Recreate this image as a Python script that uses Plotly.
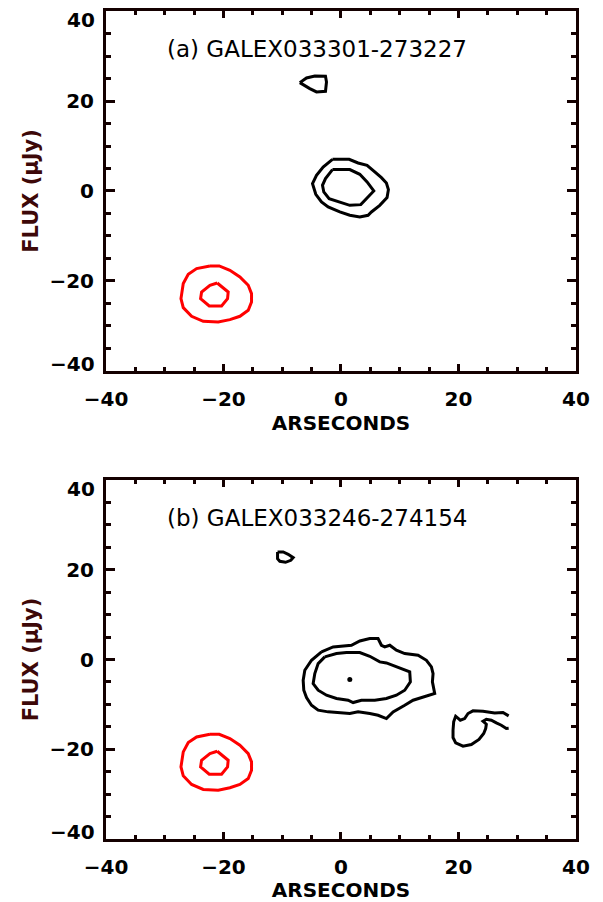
import plotly.graph_objects as go

# ---------------- contour vertices (arcseconds) ----------------
# Red comparison-source contours, identical in both panels
red_outer_x = [-22.31, -20.73, -18.91, -17.21, -15.79, -15.23, -15.23, -15.79, -17.21,
               -18.91, -20.90, -23.45, -25.43, -26.85, -27.24, -26.85, -26.00, -24.58]
red_outer_y = [-16.66, -16.66, -17.62, -19.10, -20.96, -22.81, -24.66, -26.51, -27.84,
               -28.58, -29.10, -28.96, -27.84, -25.92, -23.92, -20.58, -18.51, -17.25]
red_inner_x = [-21.07, -19.20, -19.31, -20.33, -22.43, -23.90, -23.73, -22.31]
red_inner_y = [-20.44, -22.44, -23.92, -25.55, -25.55, -23.92, -22.44, -20.96]

# Panel (a): GALEX033301-273227
a_outer_x = [-1.45, 1.38, 2.91, 4.44, 5.75, 6.88, 7.73, 8.07, 7.84, 6.60, 5.18, 4.61,
             3.20, 1.50, -0.20, -2.19, -3.32, -4.29, -4.85, -4.17, -3.04]
a_outer_y = [7.04, 7.04, 6.23, 5.71, 4.23, 2.97, 1.78, 0.30, -1.47, -3.18, -4.66, -5.40,
             -5.77, -5.40, -4.66, -3.55, -2.44, -0.73, 1.64, 3.49, 5.34]
a_inner_x = [-1.45, 1.50, 3.20, 4.44, 5.58, 4.33, 3.37, 1.50, -0.49, -2.02, -2.93, -3.15,
             -2.64, -1.62]
a_inner_y = [4.75, 4.75, 3.71, 2.01, 0.01, -1.70, -3.03, -3.18, -2.44, -1.70, -0.21, 1.27,
             2.75, 4.45]
a_blob_x = [-7.01, -5.87, -4.46, -2.64, -2.47, -2.64, -4.17, -5.31]
a_blob_y = [24.08, 25.12, 25.56, 25.49, 24.23, 22.16, 22.01, 22.75]

# Panel (b): GALEX033246-274154
b_outer_x = [-3.32, -1.34, 1.78, 3.20, 4.90, 6.31, 6.88, 7.45, 8.30, 9.43, 10.85, 13.12,
             14.54, 15.39, 15.67, 15.56, 15.95, 13.97, 12.27, 10.85, 8.87, 7.73, 6.31,
             4.90, 2.91, 1.50, -0.20, -2.19, -3.89, -5.02, -5.87, -6.33, -6.44, -6.16,
             -5.02]
b_outer_y = [1.70, 2.81, 3.18, 4.15, 4.67, 4.67, 3.18, 2.81, 3.18, 2.07, 1.33, 0.96,
             -0.16, -1.64, -3.12, -4.98, -7.58, -8.32, -9.06, -10.18, -11.66, -13.15,
             -12.41, -12.03, -11.66, -12.03, -11.88, -11.66, -11.29, -10.18, -8.47, -6.84,
             -4.61, -2.38, -0.16]
b_inner_x = [-2.76, -0.77, 0.93, 3.20, 4.90, 6.60, 7.73, 9.43, 11.70, 11.81, 10.85, 9.43,
             7.73, 5.75, 3.48, 2.06, 1.21, -0.77, -2.47, -3.89, -4.74, -4.46, -3.89]
b_inner_y = [0.59, 1.33, 1.55, 1.55, 0.73, -0.53, -0.75, -1.64, -2.75, -4.98, -6.84,
             -7.95, -8.69, -9.06, -9.06, -9.58, -9.06, -8.69, -7.95, -6.84, -5.35, -3.12,
             -0.90]
b_peak_x = [1.50]
b_peak_y = [-4.46]
b_blob_x = [-10.80, -9.84, -8.99, -8.14, -8.54, -9.44, -10.41, -10.80]
b_blob_y = [23.97, 23.97, 23.45, 22.71, 22.12, 21.67, 21.89, 22.49]
# open contour running off to the south-east of the source
b_wisp_x = [28.54, 27.57, 26.16, 24.17, 22.47, 21.62, 21.05, 20.31, 19.52, 19.18, 19.07,
            19.07, 19.52, 20.77, 22.19, 23.49, 24.29, 24.63, 24.74, 24.17, 24.74, 25.59,
            26.44, 27.29, 28.14, 28.54]
b_wisp_y = [-12.55, -11.81, -11.89, -11.51, -11.44, -12.03, -13.15, -13.52, -12.63,
            -13.89, -15.75, -17.38, -18.57, -19.31, -18.94, -17.82, -16.49, -15.37,
            -14.41, -13.74, -13.30, -13.52, -14.11, -14.63, -15.37, -15.30]

panel_labels = ["(a) GALEX033301-273227", "(b) GALEX033246-274154"]
tick_vals = [-40, -20, 0, 20, 40]
x_tick_text = ["−40", "−20", "0", "20", "40"]
# the end labels of the flux axis are set inside the frame, drawn separately below
y_tick_text = ["", "−20", "0", "20", ""]
y_end_labels = {40: "40", -40: "−40"}

BLACK = "#000000"
RED = "#ff0000"
FRAME = "#140000"
LW = 3


def closed(xs, ys):
    return xs + xs[:1], ys + ys[:1]


fig = go.Figure()


def add_line(xs, ys, color, row, close=True):
    if close:
        xs, ys = closed(xs, ys)
    sfx = "" if row == 1 else "2"
    fig.add_trace(go.Scatter(x=xs, y=ys, mode="lines",
                             line=dict(color=color, width=LW),
                             xaxis="x" + sfx, yaxis="y" + sfx,
                             showlegend=False, hoverinfo="skip"))


# panel (a)
add_line(red_outer_x, red_outer_y, RED, 1)
add_line(red_inner_x, red_inner_y, RED, 1)
add_line(a_outer_x, a_outer_y, BLACK, 1)
add_line(a_inner_x, a_inner_y, BLACK, 1)
add_line(a_blob_x, a_blob_y, BLACK, 1)

# panel (b)
add_line(red_outer_x, red_outer_y, RED, 2)
add_line(red_inner_x, red_inner_y, RED, 2)
add_line(b_outer_x, b_outer_y, BLACK, 2)
add_line(b_inner_x, b_inner_y, BLACK, 2)
add_line(b_blob_x, b_blob_y, BLACK, 2)
add_line(b_wisp_x, b_wisp_y, BLACK, 2, close=False)
fig.add_trace(go.Scatter(x=b_peak_x, y=b_peak_y, mode="markers",
                         marker=dict(color=BLACK, size=5),
                         xaxis="x2", yaxis="y2", showlegend=False, hoverinfo="skip"))

tick_font = dict(family="DejaVu Sans", size=20, color="#000000", weight="bold")
title_font = dict(family="DejaVu Sans", size=20, color="#000000", weight="bold")


def xaxis_cfg(anchor):
    return dict(range=[-40, 40], domain=[0.1758, 0.9552], anchor=anchor,
                tickvals=tick_vals, ticktext=x_tick_text,
                ticks="inside", ticklen=7, tickwidth=3,
                tickcolor=FRAME, showline=True, linewidth=3, linecolor=FRAME,
                mirror="allticks", showgrid=False, zeroline=False,
                tickfont=tick_font, ticklabelstandoff=8, ticklabeloverflow="allow",
                minor=dict(dtick=5, tick0=0, ticks="inside", ticklen=4, tickwidth=3,
                           tickcolor=FRAME, showgrid=False),
                title=dict(text="ARSECONDS", font=title_font, standoff=7),
                automargin=False, fixedrange=True)


def yaxis_cfg(anchor, domain):
    return dict(range=[-40, 40], domain=domain, anchor=anchor,
                tickvals=tick_vals, ticktext=y_tick_text,
                ticks="inside", ticklen=9, tickwidth=3,
                tickcolor=FRAME, showline=True, linewidth=3, linecolor=FRAME,
                mirror="allticks", showgrid=False, zeroline=False,
                tickfont=tick_font, ticklabelstandoff=5, ticklabeloverflow="allow",
                minor=dict(dtick=5, tick0=0, ticks="inside", ticklen=5, tickwidth=3,
                           tickcolor=FRAME, showgrid=False),
                title=dict(text="FLUX (μJy)",
                           font=dict(family="DejaVu Sans", size=21, color="#3d0808",
                                     weight="bold"),
                           standoff=6),
                automargin=False, fixedrange=True)


annotations = []
for i, (xr, yr) in enumerate([("x", "y"), ("x2", "y2")]):
    annotations.append(dict(text=panel_labels[i], x=-30.0, y=31.5, xref=xr, yref=yr,
                            xanchor="left", yanchor="middle", showarrow=False,
                            font=dict(family="DejaVu Sans", size=23, color="#000000")))
    for val, txt in y_end_labels.items():
        annotations.append(dict(text=txt, x=-40, y=val, xref=xr, yref=yr,
                                xanchor="right", yanchor="middle", showarrow=False,
                                xshift=-9, yshift=-9 if val > 0 else 7,
                                font=tick_font))

fig.update_layout(
    width=603, height=902, autosize=False,
    margin=dict(l=0, r=0, t=0, b=0),
    paper_bgcolor="white", plot_bgcolor="white",
    xaxis=xaxis_cfg("y"),
    yaxis=yaxis_cfg("x", [0.5887, 0.9878]),
    xaxis2=xaxis_cfg("y2"),
    yaxis2=yaxis_cfg("x2", [0.0698, 0.4678]),
    annotations=annotations,
)

fig.write_html("out.html")
